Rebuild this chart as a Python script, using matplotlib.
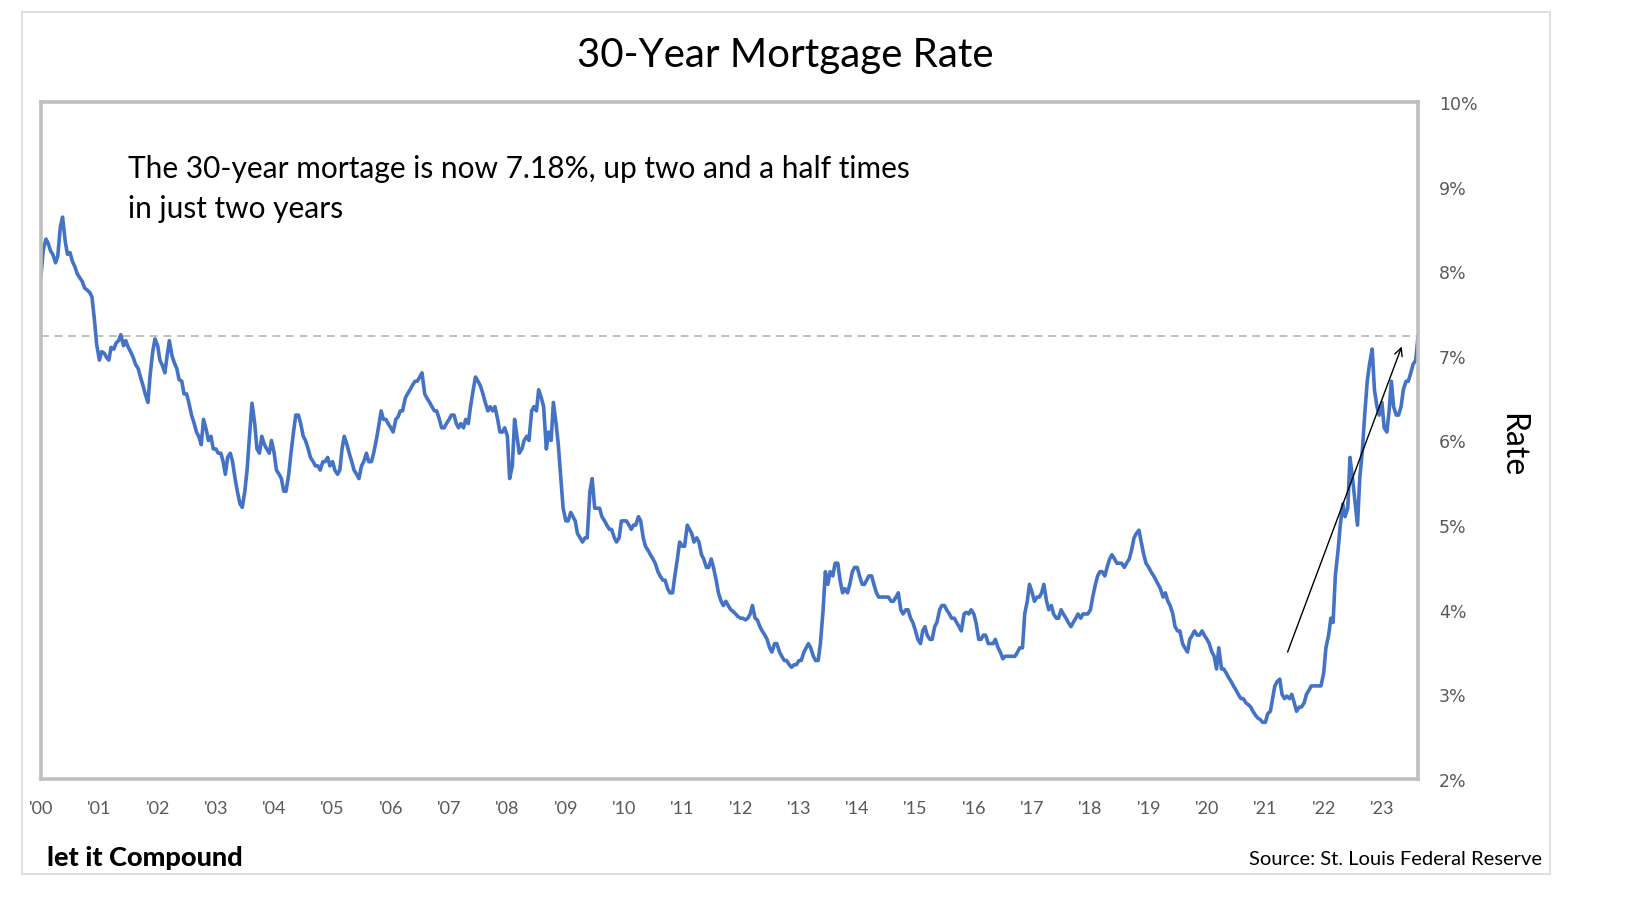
import matplotlib
matplotlib.use("Agg")
import matplotlib.pyplot as plt
from matplotlib.patches import Rectangle
import pandas as pd

# 30-year fixed mortgage rate (1st and 15th of each month)
r00 = [7.95, 8.25, 8.38, 8.33, 8.24, 8.20, 8.10, 8.18, 8.52, 8.64, 8.35, 8.20,
       8.22, 8.12, 8.05, 7.97, 7.92, 7.88, 7.80, 7.78, 7.75, 7.70, 7.42, 7.13]
r01 = [6.95, 7.05, 7.03, 6.98, 6.95, 7.10, 7.08, 7.15, 7.18, 7.25, 7.12, 7.18,
       7.10, 7.05, 6.98, 6.90, 6.85, 6.75, 6.65, 6.55, 6.45, 6.78, 7.05, 7.20]
r02 = [7.12, 6.95, 6.88, 6.80, 7.00, 7.18, 7.00, 6.92, 6.85, 6.72, 6.70, 6.55,
       6.55, 6.45, 6.30, 6.22, 6.10, 6.05, 5.95, 6.25, 6.13, 6.00, 6.05, 5.90]
r03 = [5.90, 5.85, 5.85, 5.75, 5.60, 5.80, 5.85, 5.75, 5.55, 5.40, 5.25, 5.21,
       5.40, 5.65, 6.10, 6.44, 6.20, 5.90, 5.85, 6.05, 5.95, 5.90, 5.85, 6.00]
r04 = [5.85, 5.65, 5.60, 5.55, 5.40, 5.40, 5.60, 5.85, 6.10, 6.30, 6.30, 6.20,
       6.05, 6.00, 5.90, 5.80, 5.75, 5.70, 5.70, 5.65, 5.75, 5.75, 5.80, 5.70]
r05 = [5.75, 5.65, 5.60, 5.65, 5.90, 6.05, 5.95, 5.85, 5.75, 5.65, 5.60, 5.55,
       5.70, 5.75, 5.85, 5.75, 5.75, 5.85, 6.00, 6.15, 6.35, 6.25, 6.25, 6.20]
r06 = [6.15, 6.10, 6.25, 6.28, 6.35, 6.35, 6.50, 6.55, 6.60, 6.65, 6.70, 6.70,
       6.75, 6.80, 6.55, 6.50, 6.45, 6.40, 6.35, 6.35, 6.25, 6.15, 6.15, 6.20]
r07 = [6.25, 6.30, 6.30, 6.20, 6.15, 6.20, 6.15, 6.25, 6.20, 6.40, 6.60, 6.75,
       6.70, 6.65, 6.55, 6.45, 6.35, 6.40, 6.35, 6.40, 6.25, 6.10, 6.10, 6.15]
r08 = [6.05, 5.55, 5.70, 6.25, 6.05, 5.85, 5.90, 6.00, 6.05, 6.00, 6.35, 6.40,
       6.35, 6.60, 6.50, 6.40, 5.90, 6.10, 6.00, 6.45, 6.20, 5.95, 5.55, 5.20]
r09 = [5.05, 5.05, 5.15, 5.10, 5.05, 4.90, 4.85, 4.80, 4.85, 4.85, 5.40, 5.55,
       5.20, 5.20, 5.20, 5.10, 5.05, 5.00, 4.95, 4.95, 4.85, 4.80, 4.85, 5.05]
r10 = [5.05, 5.05, 5.00, 4.95, 5.00, 5.00, 5.10, 5.05, 4.85, 4.75, 4.70, 4.65,
       4.60, 4.55, 4.45, 4.40, 4.35, 4.35, 4.25, 4.20, 4.20, 4.40, 4.60, 4.80]
r11 = [4.75, 4.75, 5.00, 4.95, 4.90, 4.80, 4.85, 4.80, 4.65, 4.60, 4.50, 4.50,
       4.60, 4.50, 4.35, 4.20, 4.10, 4.05, 4.10, 4.05, 4.00, 3.98, 3.95, 3.92]
r12 = [3.90, 3.90, 3.88, 3.90, 3.95, 4.05, 3.90, 3.88, 3.80, 3.75, 3.70, 3.65,
       3.55, 3.50, 3.60, 3.60, 3.50, 3.45, 3.40, 3.40, 3.35, 3.32, 3.35, 3.35]
r13 = [3.40, 3.40, 3.50, 3.55, 3.60, 3.55, 3.45, 3.40, 3.40, 3.60, 4.00, 4.45,
       4.30, 4.45, 4.40, 4.55, 4.55, 4.35, 4.20, 4.25, 4.20, 4.30, 4.45, 4.50]
r14 = [4.50, 4.40, 4.30, 4.30, 4.35, 4.40, 4.40, 4.30, 4.20, 4.15, 4.15, 4.15,
       4.15, 4.15, 4.10, 4.10, 4.15, 4.20, 4.00, 3.95, 4.00, 4.00, 3.90, 3.85]
r15 = [3.75, 3.65, 3.60, 3.75, 3.80, 3.70, 3.65, 3.65, 3.80, 3.85, 4.00, 4.05,
       4.05, 4.00, 3.95, 3.90, 3.90, 3.85, 3.80, 3.75, 3.95, 3.97, 3.95, 4.00]
r16 = [3.95, 3.85, 3.65, 3.65, 3.70, 3.70, 3.60, 3.60, 3.60, 3.65, 3.55, 3.50,
       3.42, 3.45, 3.45, 3.45, 3.45, 3.45, 3.50, 3.55, 3.55, 3.95, 4.10, 4.30]
r17 = [4.20, 4.10, 4.15, 4.15, 4.20, 4.30, 4.10, 4.00, 4.05, 3.95, 3.90, 3.90,
       4.00, 3.95, 3.90, 3.85, 3.80, 3.85, 3.90, 3.95, 3.90, 3.95, 3.95, 3.95]
r18 = [4.00, 4.15, 4.30, 4.40, 4.45, 4.45, 4.40, 4.50, 4.60, 4.65, 4.60, 4.55,
       4.55, 4.55, 4.50, 4.55, 4.60, 4.70, 4.85, 4.90, 4.94, 4.80, 4.65, 4.55]
r19 = [4.50, 4.45, 4.40, 4.35, 4.30, 4.25, 4.15, 4.20, 4.10, 4.05, 3.95, 3.80,
       3.75, 3.75, 3.60, 3.55, 3.50, 3.65, 3.70, 3.75, 3.70, 3.70, 3.75, 3.70]
r20 = [3.65, 3.60, 3.50, 3.45, 3.30, 3.55, 3.30, 3.30, 3.25, 3.20, 3.15, 3.10,
       3.05, 3.00, 2.95, 2.95, 2.90, 2.88, 2.85, 2.80, 2.75, 2.72, 2.70, 2.67]
r21 = [2.67, 2.77, 2.80, 2.95, 3.10, 3.15, 3.18, 3.00, 2.95, 2.98, 2.95, 3.00,
       2.90, 2.80, 2.85, 2.85, 2.90, 3.00, 3.05, 3.10, 3.10, 3.10, 3.10, 3.10]
r22 = [3.25, 3.55, 3.70, 3.90, 3.85, 4.40, 4.70, 5.00, 5.25, 5.10, 5.20, 5.80,
       5.55, 5.30, 5.00, 5.55, 5.90, 6.30, 6.70, 6.90, 7.08, 6.60, 6.40, 6.30]
r23 = [6.45, 6.15, 6.10, 6.35, 6.70, 6.40, 6.30, 6.30, 6.40, 6.60, 6.70, 6.70,
       6.80, 6.90, 6.95, 7.23]

rates = (r00 + r01 + r02 + r03 + r04 + r05 + r06 + r07 + r08 + r09 + r10 + r11 +
         r12 + r13 + r14 + r15 + r16 + r17 + r18 + r19 + r20 + r21 + r22 + r23)
dates = pd.date_range("2000-01-01", periods=len(rates), freq="SMS")

current_rate = 7.23
years = list(range(2000, 2024))
y_ticks = [2, 3, 4, 5, 6, 7, 8, 9, 10]

title = "30-Year Mortgage Rate"
note = "The 30-year mortage is now 7.18%, up two and a half times\nin just two years"
arrow_from = (pd.Timestamp("2021-05-20"), 3.50)
arrow_to = (pd.Timestamp("2023-05-05"), 7.11)

W, H = 1632, 920
fig = plt.figure(figsize=(W / 100, H / 100), dpi=100)
fig.patch.set_facecolor("white")

# outer light frame
fig.patches.append(Rectangle((22 / W, 1 - 875 / H), (1550 - 22) / W, (875 - 13) / H,
                             transform=fig.transFigure, fill=False,
                             edgecolor="#D9D9D9", linewidth=1.2))

ax = fig.add_axes([41 / W, 1 - 780 / H, (1418 - 41) / W, (780 - 103) / H])
ax.plot(dates, rates, color="#4472C4", linewidth=2.6, solid_joinstyle="round")
ax.axhline(current_rate, color="#BFBFBF", linestyle=(0, (4, 3)), linewidth=1.4, zorder=0)

ax.set_xlim(dates[0], dates[-1])
ax.set_ylim(2, 10)

for s in ax.spines.values():
    s.set_color("#BFBFBF")
    s.set_linewidth(2.6)

ax.set_xticks([pd.Timestamp(y, 1, 1) for y in years])
ax.set_xticklabels(["'" + str(y)[2:] for y in years], fontsize=13,
                   color="#595959", family="Lato")
ax.tick_params(axis="x", length=0, pad=15)

ax.yaxis.tick_right()
ax.set_yticks(y_ticks)
ax.set_yticklabels([f"{v}%" for v in y_ticks], fontsize=12.5, color="#595959",
                   family="DejaVu Sans")
ax.tick_params(axis="y", length=0, pad=15)

ax.annotate("", xy=arrow_to, xytext=arrow_from,
            arrowprops=dict(arrowstyle="->", color="black", lw=1.0,
                            mutation_scale=14, shrinkA=0, shrinkB=0))

fig.text(785 / W, 1 - 55 / H, title, ha="center", va="center",
         fontsize=29, family="Lato", color="black")
fig.text(128 / W, 1 - 189 / H, note, ha="left", va="center", fontsize=21.5,
         family="Lato", color="black", linespacing=1.55)
fig.text(1512 / W, 1 - 445 / H, "Rate", ha="center", va="center", rotation=270,
         fontsize=23, family="Lato", color="black")
fig.text(47 / W, 1 - 858 / H, "let it Compound", ha="left", va="center",
         fontsize=19.5, family="Lato", fontweight="black", color="black")
fig.text(1542 / W, 1 - 860 / H, "Source: St. Louis Federal Reserve", ha="right",
         va="center", fontsize=14.5, family="Lato", color="black")

fig.savefig("out.png", dpi=100, facecolor="white")
